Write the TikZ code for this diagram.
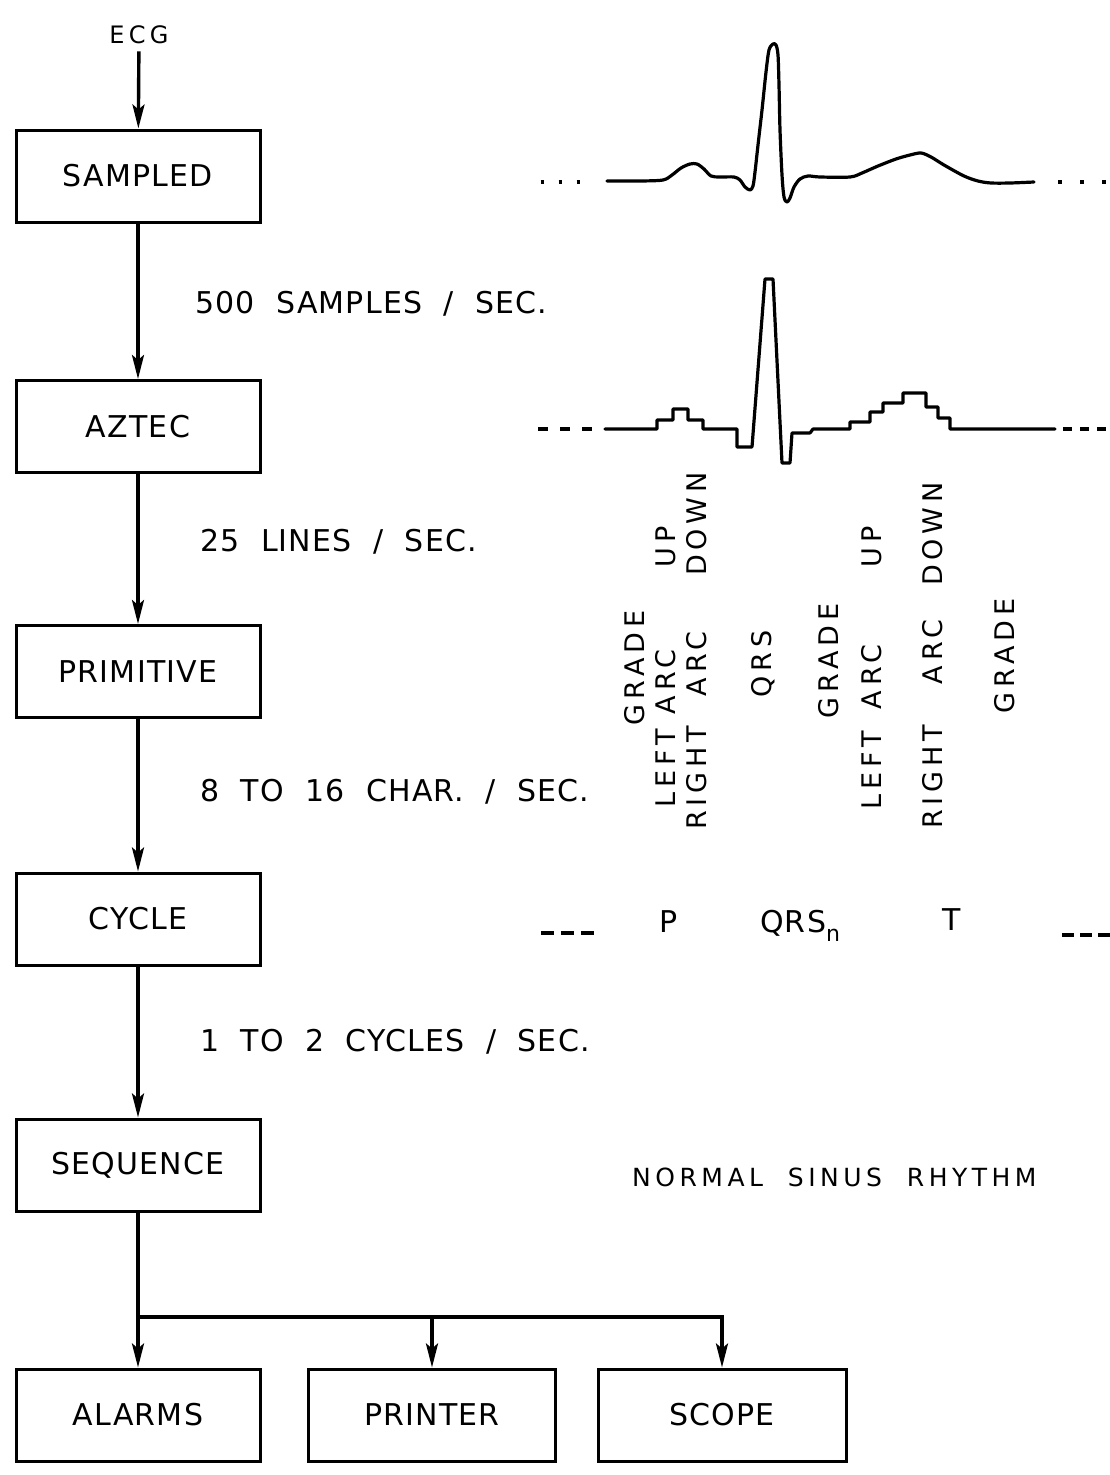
\documentclass[tikz,border=0pt]{standalone}
\usepackage{fontspec}
\usetikzlibrary{arrows.meta}
\newfontfamily\handfont{DejaVu Sans}[LetterSpace=4,WordSpace=2]
\newfontfamily\handvfont{DejaVu Sans}[LetterSpace=18,WordSpace=2]
\newcommand\bigfnt{\handfont\fontsize{30}{34}\selectfont}
\newcommand\vfnt{\handvfont\fontsize{27}{30}\selectfont}
\newcommand\nsrfnt{\handvfont\fontsize{25}{29}\selectfont}
\newcommand\ecgfnt{\handvfont\fontsize{24}{28}\selectfont}
\begin{document}
\begin{tikzpicture}[x=1pt,y=-1pt,
  box/.style={draw,line width=3pt,minimum width=244pt,minimum height=92pt,inner sep=0pt,font=\bigfnt},
  lbl/.style={inner sep=0pt,font=\bigfnt},
  vlbl/.style={inner sep=0pt,rotate=90,font=\vfnt},
  arr/.style={line width=3.4pt,-{Stealth[length=24pt,width=12pt,inset=5pt]}},
  wave/.style={line width=3.2pt,line join=round,line cap=round},
  dots/.style={line width=3.5pt}]
\path[use as bounding box] (0,0) rectangle (1110,1475);
\fill[white] (0,0) rectangle (1110,1475);

% flow boxes
\node[inner sep=7pt,font=\ecgfnt] (ecg) at (139,35) {ECG};
\node[box] (sampled) at (138,176) {SAMPLED};
\node[box] (aztec) at (138,426.5) {AZTEC};
\node[box] (primitive) at (138,671.5) {PRIMITIVE};
\node[box] (cycle) at (138,919) {CYCLE};
\node[box] (sequence) at (138,1165) {SEQUENCE};
\node[box] (alarms) at (138,1415) {ALARMS};
\node[box,minimum width=247pt] (printer) at (432,1415) {PRINTER};
\node[box,minimum width=248pt] (scope) at (722,1415) {SCOPE};

\draw[arr] (ecg) -- (sampled);
\draw[arr] (sampled) -- (aztec);
\draw[arr] (aztec) -- (primitive);
\draw[arr] (primitive) -- (cycle);
\draw[arr] (cycle) -- (sequence);
\coordinate (br) at (138,1317);
\draw[arr] (sequence) -- (alarms);
\draw[arr] (br) -| (printer);
\draw[arr] (br) -| (scope);

% rates
\node[lbl,anchor=base west] (r1) at (195,313) {500 SAMPLES / SEC.};
\node[lbl,anchor=base west] (r2) at (200,551) {25 LINES / SEC.};
\node[lbl,anchor=base west] (r3) at (200,801) {8 TO 16 CHAR. / SEC.};
\node[lbl,anchor=base west] (r4) at (200,1051) {1 TO 2 CYCLES / SEC.};
\node[lbl,font=\nsrfnt,anchor=base west] (nsr) at (632,1186) {NORMAL SINUS RHYTHM};

% sampled ECG
\draw[dots,dash pattern=on 3pt off 15pt] (540.5,182) -- (580,182);
\draw[dots,dash pattern=on 4pt off 18pt] (1058,182) -- (1106,182);
\draw[wave] plot[smooth,tension=0.5] coordinates {(607,181) (640,181) (663,180) (672,175) (681,168) (690,164) (697,164) (704,169) (711,176) (720,177) (734,177) (740,180) (745,187) (750,190) (753,186) (755,172) (758,145) (762,110) (766,72) (769,50) (773,44) (776,45) (778,55) (779,85) (780,130) (782,175) (784,197) (787,202) (790,198) (794,187) (800,179) (808,176) (820,177) (850,177) (862,173) (878,166) (896,159) (910,155) (921,153) (931,157) (944,165) (964,176) (978,181) (991,183) (1010,183) (1034,182)};

% AZTEC approximation
\draw[dots,dash pattern=on 10pt off 12pt] (538,429) -- (592,429);
\draw[dots,dash pattern=on 9pt off 8pt] (1063,429) -- (1106,429);
\draw[wave] (605,429) -- (657,429) -- (657,420) -- (673,420) -- (673,409) -- (688,409) -- (688,420) -- (703,420) -- (703,429) -- (737,429) -- (737,447) -- (752,447) -- (765,279) -- (773,279) -- (782,463) -- (790,463) -- (792,433) -- (810,433) -- (813,429) -- (850,429) -- (850,422) -- (870,422) -- (870,412) -- (883,412) -- (883,403) -- (903,403) -- (903,393) -- (926,393) -- (926,407) -- (938,407) -- (938,418) -- (950,418) -- (950,429) -- (1055,429);

% primitives (rotated)
\node[vlbl] (g1) at (635,668) {GRADE};
\node[vlbl] (l1a) at (666,768) {LEFT};
\node[vlbl] (l1b) at (666,682) {ARC};
\node[vlbl] (l1c) at (666,547) {UP};
\node[vlbl] (ra1) at (697,778) {RIGHT};
\node[vlbl] (rb1) at (697,664) {ARC};
\node[vlbl] (rc1) at (697,524) {DOWN};
\node[vlbl] (q1) at (763,664) {QRS};
\node[vlbl] (g2) at (829,661) {GRADE};
\node[vlbl] (l2a) at (872,770) {LEFT};
\node[vlbl] (l2b) at (872,677) {ARC};
\node[vlbl] (l2c) at (872,547) {UP};
\node[vlbl] (ra2) at (933,777) {RIGHT};
\node[vlbl] (rb2) at (933,652) {ARC};
\node[vlbl] (rc2) at (933,534) {DOWN};
\node[vlbl] (g3) at (1005,656) {GRADE};

% cycle
\draw[dots,dash pattern=on 13pt off 7pt] (541,933) -- (594,933);
\draw[dots,dash pattern=on 12pt off 6pt] (1062,935) -- (1110,935);
\node[lbl,anchor=base west] (p) at (659,932) {P};
\node[lbl,anchor=base west] (qrsn) at (760,932) {QRS\raisebox{-9pt}{\fontsize{22}{24}\selectfont n}};
\node[lbl,anchor=base west] (t) at (942,930) {T};
\end{tikzpicture}
\end{document}
